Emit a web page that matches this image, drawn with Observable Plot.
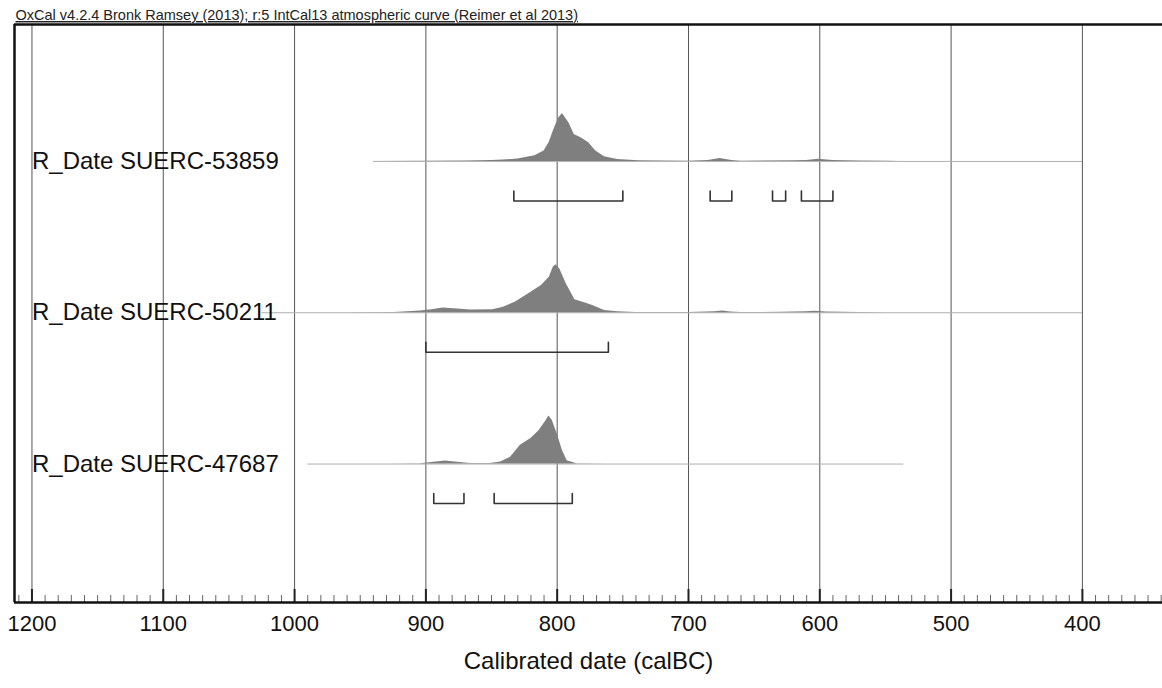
<!DOCTYPE html>
<html><head><meta charset="utf-8">
<script src="https://cdn.jsdelivr.net/npm/d3@7"></script>
<script src="https://cdn.jsdelivr.net/npm/@observablehq/plot@0.6"></script>
<style>body{margin:0;background:#fff} svg{display:block}</style>
</head><body><div id="chart"></div>
<script>
// ---- data ----
const header = "OxCal v4.2.4 Bronk Ramsey (2013); r:5 IntCal13 atmospheric curve (Reimer et al 2013)";
const xTitle = "Calibrated date (calBC)";
const samples = ["R_Date SUERC-53859", "R_Date SUERC-50211", "R_Date SUERC-47687"];
const rowLevel = [3, 2, 1];
const spanStart = [940, 1025, 990];
const spanEnd = [400, 400, 536];

// [year calBC, relative probability]
const dens53859 = [[940,0],[900,0.004],[870,0.008],[850,0.02],[841,0.03],[830,0.05],[817,0.12],[810,0.22],[806,0.4],[803,0.63],[799,0.9],[796,1.0],[791,0.8],[787,0.56],[781.5,0.49],[776,0.39],[770.6,0.22],[764,0.1],[754,0.04],[738,0.015],[720,0.008],[700,0.005],[685,0.02],[676,0.06],[667,0.02],[660,0.005],[643,0.01],[620,0.015],[610,0.02],[601,0.045],[590,0.02],[570,0.01],[548,0.003],[540,0]];
const dens50211 = [[1025,0],[960,0.002],[924,0.007],[904,0.034],[894,0.07],[887,0.097],[876,0.076],[866,0.055],[849,0.062],[841,0.117],[832,0.22],[822,0.39],[812,0.565],[806,0.74],[803,0.95],[801,1.0],[798,0.91],[793,0.6],[786.5,0.27],[778,0.2],[773,0.15],[764,0.048],[754,0.02],[740,0.005],[700,0.003],[680,0.02],[674,0.034],[668,0.015],[660,0.004],[630,0.008],[610,0.02],[604,0.03],[595,0.015],[570,0.005],[550,0]];
const dens47687 = [[990,0],[930,0.002],[904,0.005],[894,0.035],[885,0.063],[876,0.035],[866,0.014],[851,0.014],[843,0.042],[835.5,0.14],[828,0.39],[820,0.53],[814,0.69],[809,0.88],[806.3,1.0],[803.8,0.915],[800,0.63],[796,0.28],[792.4,0.07],[785,0.007],[762,0]];

// 95.4% ranges [from, to] calBC
const ranges53859 = [[833,750],[683.5,667],[636,626],[614,590]];
const ranges50211 = [[900,761]];
const ranges47687 = [[894,871],[848,788.5]];

const majorTicks = [1200, 1100, 1000, 900, 800, 700, 600, 500, 400];
const minorTicks = d3.range(340, 1211, 10).filter(d => d % 100 !== 0);

// ---- derived tables ----
const yMin = 0.085, yMax = 3.905;
const ppu = (602 - 24) / (yMax - yMin);   // pixels per row unit
const peakScale = 48 / ppu;
const brBottom = -39.5 / ppu, brTop = -29.5 / ppu;

const densTables = [dens53859, dens50211, dens47687];
const rangeTables = [ranges53859, ranges50211, ranges47687];

const areaData = densTables.flatMap((arr, i) => arr.map(([year, p]) => ({
  sample: samples[i], year, base: rowLevel[i], top: rowLevel[i] + p * peakScale
})));
const rows = samples.map((s, i) => ({sample: s, level: rowLevel[i], x1: spanStart[i], x2: spanEnd[i]}));
const bracketData = rangeTables.flatMap((arr, i) => arr.flatMap(([a, b], j) => {
  const id = samples[i] + j, L = rowLevel[i];
  return [
    {id, x: a, y: L + brTop}, {id, x: a, y: L + brBottom},
    {id, x: b, y: L + brBottom}, {id, x: b, y: L + brTop}
  ];
}));

const chart = Plot.plot({
  width: 1162,
  height: 688,
  marginLeft: 14,
  marginRight: 0,
  marginTop: 24,
  marginBottom: 86,
  style: {fontFamily: "'Liberation Sans', Arial, sans-serif", background: "#fff", color: "#111"},
  x: {domain: [1213.3, 339.0]},
  y: {domain: [yMin, yMax], axis: null},
  marks: [
    // grid lines
    Plot.ruleX(majorTicks, {stroke: "#555", strokeWidth: 1}),
    // row base lines
    Plot.ruleY(rows, {y: "level", x1: "x1", x2: "x2", stroke: "#b0b0b0", strokeWidth: 1}),
    // probability distributions
    Plot.areaY(areaData, {x: "year", y1: "base", y2: "top", z: "sample", fill: "#7f7f7f", curve: "linear"}),
    // range brackets
    Plot.line(bracketData, {x: "x", y: "y", z: "id", stroke: "#333", strokeWidth: 1.6}),
    // labels
    Plot.text(rows, {x: 1200, y: "level", text: "sample", textAnchor: "start", fontSize: 24, fill: "#111"}),
    // minor & major ticks
    Plot.ruleX(minorTicks, {y1: yMin, y2: yMin + 7 / ppu, stroke: "#666", strokeWidth: 1}),
    Plot.ruleX(majorTicks, {y1: yMin, y2: yMin + 13 / ppu, stroke: "#222", strokeWidth: 2}),
    // frame: bottom axis, top, left
    Plot.ruleY([yMin], {stroke: "#111", strokeWidth: 2.5}),
    Plot.ruleY([yMax], {stroke: "#111", strokeWidth: 2.5}),
    Plot.ruleX([1213.3], {stroke: "#111", strokeWidth: 2.5}),
    // tick labels
    Plot.axisX({ticks: majorTicks, tickSize: 0, tickPadding: 13, fontSize: 22, tickFormat: d => String(d), label: null, fill: "#111"}),
    // header and axis title
    Plot.text([header], {frameAnchor: "top-left", text: d => d, dx: 1, dy: -4.5, lineAnchor: "bottom", fontSize: 14.5, fill: "#222", className: "hdr"}),
    Plot.text([xTitle], {frameAnchor: "bottom", text: d => d, dy: 66, fontSize: 24, fill: "#111"})
  ]
});
chart.querySelectorAll(".hdr text").forEach(t => t.setAttribute("text-decoration", "underline"));
document.getElementById("chart").appendChild(chart);
</script>
</body></html>
